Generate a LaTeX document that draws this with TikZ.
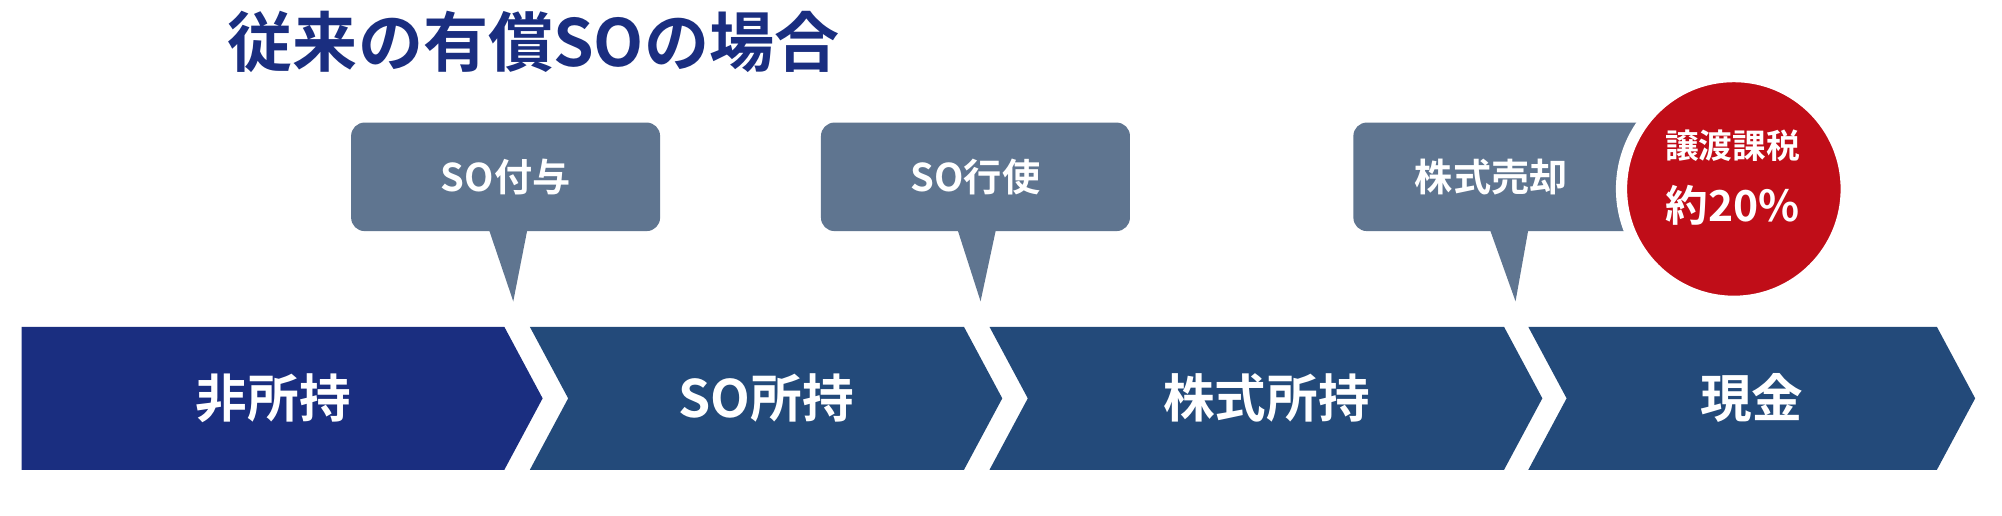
\documentclass[tikz,border=0pt]{standalone}
\usepackage{fontspec}
\setmainfont{Noto Sans CJK JP}[BoldFont={* Bold}]
\begin{document}
\begin{tikzpicture}[x=0.01cm,y=-0.01cm,
  lbl/.style={text=white,font=\bfseries\fontsize{11.5}{13}\selectfont},
  ctext/.style={text=white,font=\bfseries\fontsize{8.5}{10}\selectfont},
  call/.style={fill=calloutc,rounded corners=3},
  chev/.style={fill=chevc}]
\definecolor{navy}{HTML}{1A2E80}
\definecolor{chevc}{HTML}{234A7A}
\definecolor{calloutc}{HTML}{5F7590}
\definecolor{redc}{HTML}{C00D18}
\useasboundingbox[fill=white] (0,0) rectangle (1568,404);
\node[anchor=west,text=navy,font=\bfseries\fontsize{14.5}{16}\selectfont] (title) at (166,33) {従来の有償SOの場合};
% chevrons
\fill[navy] (17,256) -- (395,256) -- (425,312) -- (395,368) -- (17,368) -- cycle;
\fill[chev] (415,256) -- (755,256) -- (785,312) -- (755,368) -- (415,368) -- (445,312) -- cycle;
\fill[chev] (775,256) -- (1178,256) -- (1208,312) -- (1178,368) -- (775,368) -- (805,312) -- cycle;
\fill[chev] (1197,256) -- (1517,256) -- (1547,312) -- (1517,368) -- (1197,368) -- (1227,312) -- cycle;
\node[lbl] (a) at (214,312) {非所持};
\node[lbl] (b) at (600,312) {SO所持};
\node[lbl] (c) at (992,312) {株式所持};
\node[lbl] (d) at (1372,312) {現金};
% callouts
\fill[call] (275,96) rectangle (517,181);
\fill[calloutc] (383,180) -- (402,236) -- (413,180) -- cycle;
\node[ctext] (s1) at (396,139) {SO付与};
\fill[call] (643,96) rectangle (885,181);
\fill[calloutc] (750,180) -- (768,236) -- (780,180) -- cycle;
\node[ctext] (s2) at (764,139) {SO行使};
\fill[call] (1060,96) rectangle (1300,181);
\fill[calloutc] (1167,180) -- (1187,236) -- (1197,180) -- cycle;
\node[ctext] (s3) at (1168,139) {株式売却};
\fill[redc,draw=white,line width=2.5pt] (1358,148) circle (88);
\node[text=white,font=\bfseries\fontsize{7.5}{9}\selectfont] (t1) at (1357,114) {譲渡課税};
\node[text=white,font=\bfseries\fontsize{9.5}{11}\selectfont] (t2) at (1357,161) {約20\%};
\end{tikzpicture}
\end{document}
